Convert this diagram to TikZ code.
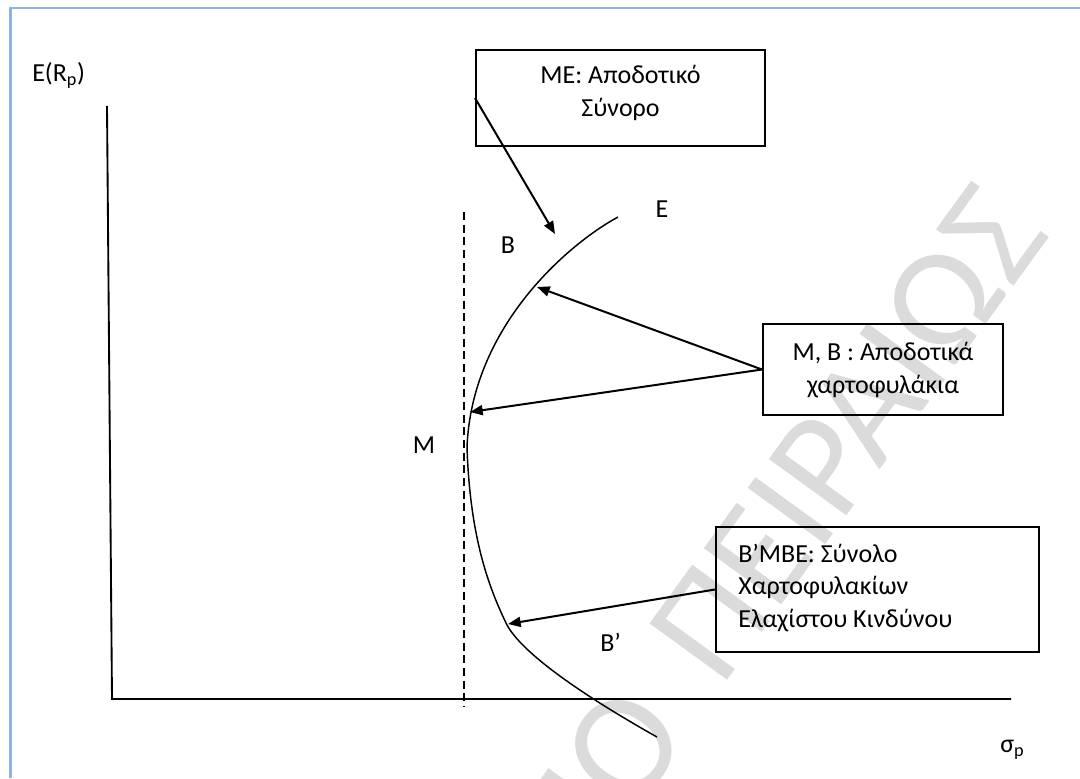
\documentclass[tikz,border=0pt]{standalone}
\usepackage{fontspec}
\setmainfont{Carlito}
\usetikzlibrary{arrows.meta}
\definecolor{framebl}{HTML}{8EB4E3}
\definecolor{wmgray}{gray}{0.86}
\begin{document}
\begin{tikzpicture}[x=0.75pt,y=-0.75pt,
  box/.style={draw, line width=1.5pt, inner sep=0pt},
  txt/.style={font=\fontsize{19.5}{24.4}\selectfont, inner sep=0pt},
  lbl/.style={font=\fontsize{19.5}{24}\selectfont, inner sep=0pt},
  arr/.style={-{Triangle[length=9.5pt,width=7.5pt]}, line width=1.5pt},
  wm/.style={font=\fontsize{112}{112}\selectfont, text=wmgray, inner sep=0pt}]
\useasboundingbox (0,0) rectangle (1080,778);
\fill[white] (0,0) rectangle (1080,778);
% watermark
\begin{scope}
\clip (0,0) rectangle (1080,778);
\node[wm, anchor=base west, rotate=54] (wmb) at (721,689) {ΠΕΙΡΑΙΩΣ};
\node[wm, anchor=base east, rotate=54] (wma) at (692,735) {ΠΑΝΕΠΙΣΤΗΜΙΟ};
\end{scope}
% frame
\coordinate (fbl) at (10.5,778);
\coordinate (ftl) at (10.5,8);
\coordinate (ftr) at (1080,8);
\draw[framebl, line width=1.7pt] (fbl) -- (ftl) -- (ftr);
% axes
\coordinate (ytop) at (107,106);
\coordinate (orig) at (112,699);
\coordinate (xend) at (1011,699);
\draw[line width=1.4pt] (ytop) -- (orig) -- (xend);
% dashed vertical
\coordinate (dtop) at (464,212);
\coordinate (dbot) at (464,707);
\draw[dash pattern=on 6pt off 3.5pt, line width=1pt] (dtop) -- (dbot);
% frontier curve
\coordinate (cE) at (618,217);
\coordinate (cM) at (467,447);
\coordinate (cB2) at (507,625);
\coordinate (cEnd) at (657,737);
\draw[line width=1.1pt] (cE) .. controls (570,243) and (472,325) .. (cM)
  .. controls (470,540) and (490,590) .. (cB2)
  .. controls (525,658) and (600,705) .. (cEnd);
\coordinate (pE1) at (555,234);
\coordinate (pB) at (537,287);
\coordinate (pM) at (470,412);
\coordinate (pB2) at (508,624);
% boxes
\node[box, minimum width=216.75pt, minimum height=72pt] (b1) at (620.5,98) {};
\node[txt, align=center] (t1) at (620.5,93) {ΜΕ: Αποδοτικό\\Σύνορο};
\node[box, minimum width=180pt, minimum height=68.25pt] (b2) at (883,369.5) {};
\node[txt, align=center] (t2) at (883,370) {Μ, Β : Αποδοτικά\\χαρτοφυλάκια};
\node[box, minimum width=242.25pt, minimum height=93.75pt] (b3) at (877.5,589.5) {};
\node[txt, align=left, anchor=west] (t3) at (738,588) {Β’ΜΒΕ: Σύνολο\\Χαρτοφυλακίων\\Ελαχίστου Κινδύνου};
% labels
\node[lbl, anchor=base] (lE) at (662,217) {E};
\node[lbl, anchor=base] (lB) at (508,253) {B};
\node[lbl, anchor=base] (lM) at (424,453) {M};
\node[lbl, anchor=base west] (lB2) at (600,651) {B’};
\node[lbl, anchor=base west] (lY) at (32,81) {E(R\textsubscript{p})};
\node[lbl, anchor=base west] (lX) at (1000,752) {σ\textsubscript{p}};
% arrows
\draw[arr] (b1.west) -- (pE1);
\draw[arr] (b2.west) -- (pB);
\draw[arr] (b2.west) -- (pM);
\draw[arr] (b3.west) -- (pB2);
\end{tikzpicture}
\end{document}
